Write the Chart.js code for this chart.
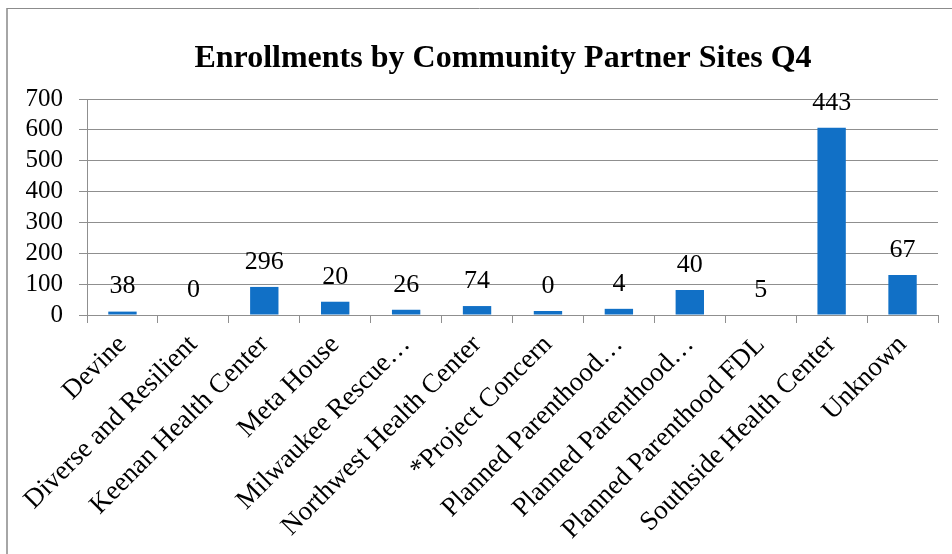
<!DOCTYPE html>
<html>
<head>
<meta charset="utf-8">
<script src="https://cdn.jsdelivr.net/npm/chart.js@4.4.0/dist/chart.umd.min.js"></script>
<style>
  html, body { margin: 0; padding: 0; background: #ffffff; }
  #wrap { position: relative; width: 952px; height: 554px; }
</style>
</head>
<body>
<div id="wrap"><canvas id="c" width="952" height="554"></canvas></div>
<script>
const titleText = "Enrollments by Community Partner Sites Q4";
const categories = [
  "Devine", "Diverse and Resilient", "Keenan Health Center", "Meta House",
  "Milwaukee Rescue\u2026", "Northwest Health Center", "*Project Concern",
  "Planned Parenthood\u2026", "Planned Parenthood\u2026", "Planned Parenthood FDL",
  "Southside Health Center", "Unknown"
];
const barValues = [11, 0, 91, 43, 17, 29, 13, 20, 81, 0, 607, 130];
const dataLabels = ["38", "0", "296", "20", "26", "74", "0", "4", "40", "5", "443", "67"];
const yTicks = [0, 100, 200, 300, 400, 500, 600, 700];

const SERIF = "'Liberation Serif', 'Times New Roman', serif";
const GRID = "#8f8f8f";

const framePlugin = {
  id: "frame",
  beforeDraw(chart) {
    const ctx = chart.ctx;
    ctx.save();
    ctx.fillStyle = "#ffffff";
    ctx.fillRect(0, 0, chart.width, chart.height);
    ctx.strokeStyle = "#a6a6a6";
    ctx.lineWidth = 2;
    ctx.beginPath();
    ctx.moveTo(7, chart.height);
    ctx.lineTo(7, 8);
    ctx.stroke();
    ctx.lineWidth = 1;
    ctx.strokeStyle = "#8c8c8c";
    ctx.beginPath();
    ctx.moveTo(7, 8.5);
    ctx.lineTo(chart.width, 8.5);
    ctx.stroke();
    ctx.restore();
  },
  afterDraw(chart) {
    const ctx = chart.ctx;
    ctx.save();
    ctx.fillStyle = "#000000";
    ctx.font = "bold 32px " + SERIF;
    ctx.textAlign = "center";
    ctx.textBaseline = "alphabetic";
    ctx.fillText(titleText, 503, 67);
    ctx.restore();
  }
};

const labelPlugin = {
  id: "barLabels",
  afterDatasetsDraw(chart) {
    const ctx = chart.ctx;
    const meta = chart.getDatasetMeta(0);
    ctx.save();
    ctx.fillStyle = "#000000";
    ctx.font = "26px " + SERIF;
    ctx.textAlign = "center";
    ctx.textBaseline = "middle";
    meta.data.forEach((bar, i) => {
      ctx.fillText(dataLabels[i], bar.x, bar.y - 25);
    });
    ctx.restore();
  }
};

new Chart(document.getElementById("c"), {
  type: "bar",
  data: {
    labels: categories,
    datasets: [{
      data: barValues,
      backgroundColor: "#1170c6",
      borderWidth: 0,
      barPercentage: 0.4,
      categoryPercentage: 1.0
    }]
  },
  options: {
    responsive: false,
    animation: false,
    devicePixelRatio: 1,
    layout: { padding: { top: 99, right: 14, left: 0, bottom: 0 } },
    plugins: {
      legend: { display: false },
      title: { display: false },
      tooltip: { enabled: false }
    },
    scales: {
      x: {
        grid: {
          display: true,
          offset: true,
          drawOnChartArea: false,
          drawTicks: true,
          tickLength: 8,
          color: GRID
        },
        border: { display: true, color: GRID },
        ticks: {
          color: "#000000",
          font: { family: SERIF, size: 27 },
          maxRotation: 45,
          minRotation: 45,
          autoSkip: false,
          padding: 6
        },
        afterFit(scale) { scale.height = 239; }
      },
      y: {
        min: 0,
        max: 700,
        afterBuildTicks(scale) { scale.ticks = yTicks.map(v => ({ value: v })); },
        grid: {
          color: GRID,
          drawTicks: true,
          tickLength: 8
        },
        border: { display: true, color: GRID },
        ticks: {
          color: "#000000",
          font: { family: SERIF, size: 25 },
          padding: 16,
          autoSkip: false
        },
        afterFit(scale) { scale.width = 87; }
      }
    }
  },
  plugins: [framePlugin, labelPlugin]
});
</script>
</body>
</html>
